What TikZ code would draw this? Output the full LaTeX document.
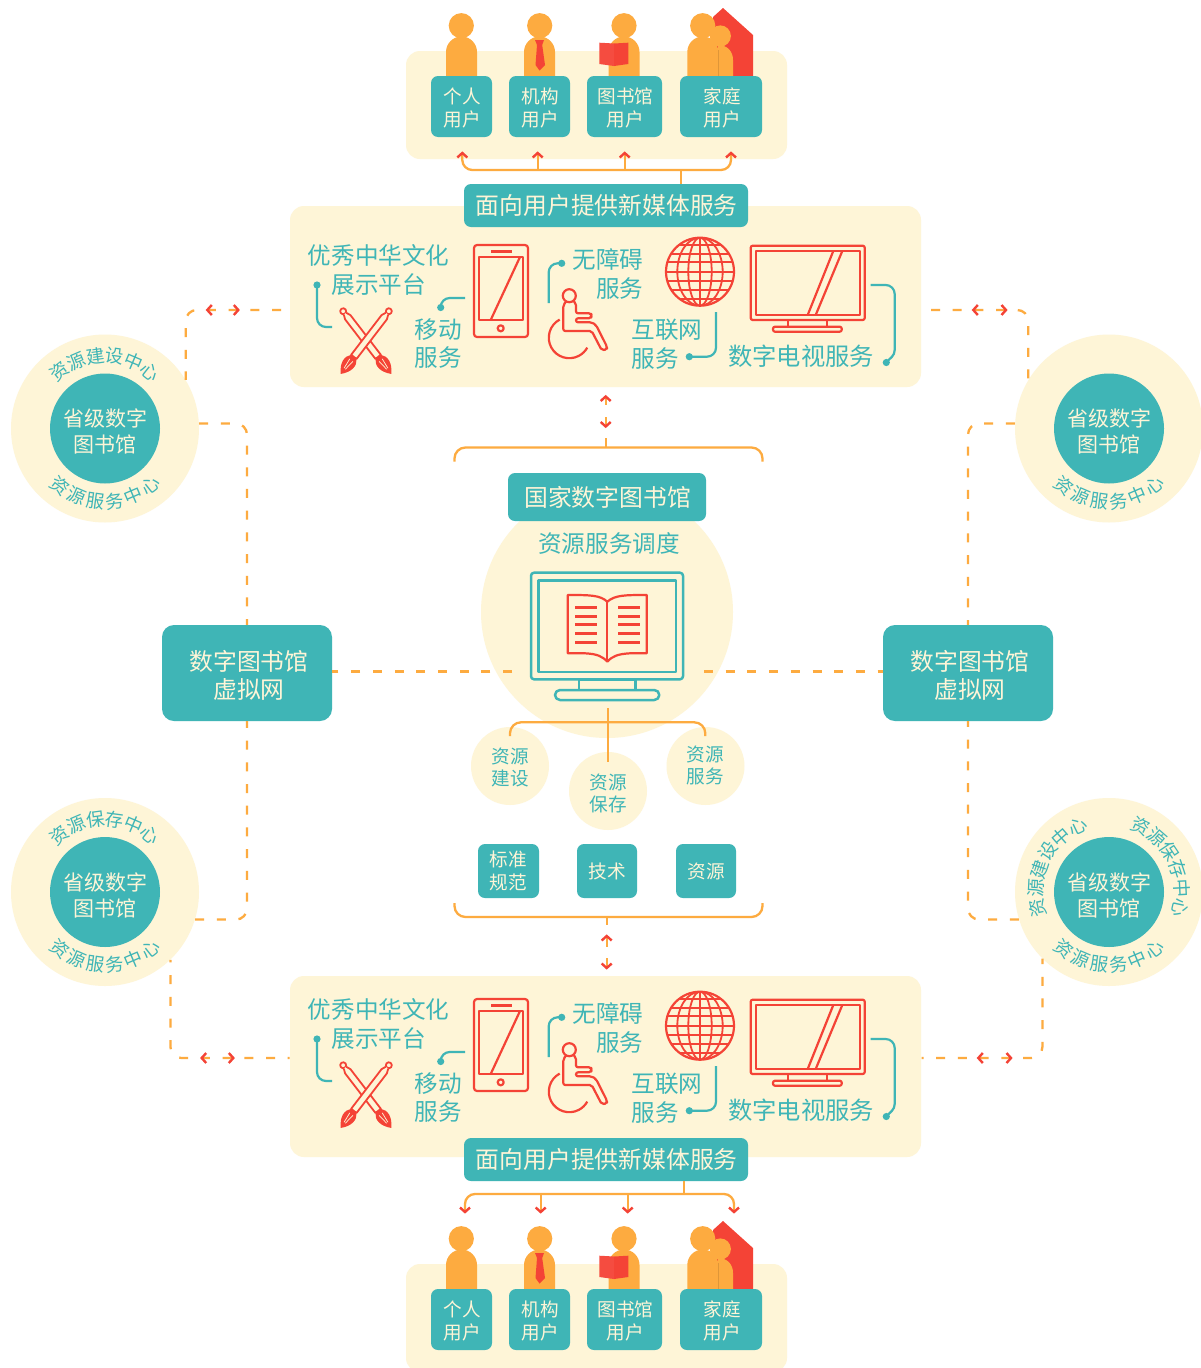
\documentclass[tikz,border=0pt]{standalone}
\usepackage{fontspec}
\setmainfont{Noto Sans CJK SC}
\definecolor{cteal}{HTML}{3FB5B6}
\definecolor{ccream}{HTML}{FEF5D7}
\definecolor{corange}{HTML}{FDAB40}
\definecolor{cred}{HTML}{F44336}
\newcommand\fbig{\fontsize{23.8}{28.5}\selectfont}
\newcommand\flab{\fontsize{23.6}{28.5}\selectfont}
\newcommand\fmid{\fontsize{21}{26}\selectfont}
\newcommand\fsma{\fontsize{18.6}{23}\selectfont}
\newcommand\fcir{\fontsize{18.6}{22}\selectfont}
% one line of text, with uniform box and an optional vertical nudge
\newcommand\tl[2][0pt]{\raisebox{#1}[.88em][.12em]{#2}}
\newcommand\ul[1]{\hspace*{2pt}\tl[-1pt]{#1}}
\tikzset{
  tbox/.style 2 args={fill=cteal,text=ccream,rounded corners=7pt,inner sep=0pt,align=center,minimum width=#1 pt,minimum height=#2 pt},
  cpanel/.style 2 args={fill=ccream,rounded corners=14pt,inner sep=0pt,minimum width=#1 pt,minimum height=#2 pt},
  disc/.style 2 args={circle,fill=#2,inner sep=0pt,minimum size=#1 pt},
  lab/.style={text=cteal,inner sep=0pt,font=\flab},
  leader/.style={draw=cteal,line width=2.2pt,rounded corners=9pt},
  leadend/.style={draw=cteal,line width=2.2pt},
  leaddot/.style={fill=cteal},
  icon/.style={draw=cred,line width=2.2pt,line join=round},
  tealicon/.style={draw=cteal,line width=2.5pt,line join=round},
  oline/.style={draw=corange,line width=2.3pt},
  dashline/.style={draw=corange,line width=2.3pt,dash pattern=on 9pt off 12.7pt,rounded corners=11pt},
  chevron/.style={draw=cred,line width=2.4pt,miter limit=10},
  person/.style={fill=corange}
}
\newcommand\chev[3]{\draw[chevron,shift={(#1,#2)},rotate=#3] (-5,4.5)--(0,0)--(5,4.5);}
\newcommand\pbody[1]{\fill[person] (#1-15.5,76) -- (#1-15.5,52) arc[start angle=180,end angle=360,radius=15.5] -- (#1+15.5,76) -- cycle;}
\newcommand\phead[1]{\fill[person] (#1,25.7) circle[radius=12.6];}
\newcommand\users[2]{%
  \begin{scope}[shift={(0,#2)}]
  \phead{461.3}\pbody{461.5}
  \phead{539.7}\pbody{539.5}
  \fill[cred] (535,40)--(544,40)--(542.2,45)--(545,65)--(539.5,70.5)--(535.5,65)--(537,45)--cycle;
  \phead{624}\pbody{624}
  \fill[cred!95!white] (599.3,42.7)--(614,43.5)--(614,66)--(599.3,64)--cycle;
  \fill[cred] (628.3,42.7)--(614,43.5)--(614,66)--(628.3,64)--cycle;
  \fill[cred] (713,17)--(723,8)--(753,35)--(753,76)--(718,76)--cycle;
  \phead{702.7}\pbody{702.8}
  \fill[person] (720.3,36) circle[radius=10.6];
  \fill[person] (718,76)--(718,45) .. controls (727,45) and (733,51) .. (733,60) -- (733,76) -- cycle;
  \draw[corange!88!black,line width=.5pt] (718,50)--(718,76);
  \node[tbox={61}{61},font=\fsma] (#1a) at (461.5,106.5) {\ul{个人}\\\ul{用户}};
  \node[tbox={61}{61},font=\fsma] (#1b) at (539.5,106.5) {\ul{机构}\\\ul{用户}};
  \node[tbox={75}{61},font=\fsma] (#1c) at (624.5,106.5) {\ul{图书馆}\\\ul{用户}};
  \node[tbox={82}{61},font=\fsma] (#1d) at (721,106.5) {\ul{家庭}\\\ul{用户}};
  \end{scope}}
\newcommand\brush[2]{%
  \begin{scope}[shift={(366,#1)},rotate=#2]
  \draw[icon,line width=1.8pt,fill=ccream] (0,-37.5) circle[radius=3];
  \draw[icon,line width=1.8pt,fill=ccream] (-1.5,-34.5)--(-3.4,-30)--(-3.4,20)--(3.4,20)--(3.4,-30)--(1.5,-34.5);
  \fill[cred] (-3.4,20) .. controls (-8,25) and (-8,33) .. (0,41.5) .. controls (8,33) and (8,25) .. (3.4,20) -- cycle;
  \draw[ccream,line width=.7pt] (-2,24)--(-.8,35) (2,24)--(.8,35);
  \end{scope}}
\newcommand\services[2]{%
  \begin{scope}[shift={(0,#2)}]
  \node[lab,align=center] (#1txa) at (378.7,270) {\tl{优秀中华文化}\\\tl{展示平台}};
  \coordinate (#1la) at (317,285);
  \coordinate (#1lb) at (332,327);
  \fill[leaddot] (#1la) circle[radius=3.6];
  \draw[leader] (#1la) |- (#1lb);
  \brush{341}{37.5}
  \brush{341}{-37.5}
  \node[lab,align=center] (#1txb) at (438,343.5) {\tl{移动}\\\tl{服务}};
  \coordinate (#1lc) at (440.7,307.5);
  \coordinate (#1ld) at (465,298);
  \fill[leaddot] (#1lc) circle[radius=3.6];
  \draw[leader] (#1lc) |- (#1ld);
  % phone
  \draw[icon,rounded corners=3pt] (474,245) rectangle (528,337);
  \draw[icon] (478.7,256.7) rectangle (522.7,320);
  \draw[icon] (520,257)--(490.7,320);
  \draw[icon,line width=2.8pt] (491,251.2)--(512,251.2);
  \draw[icon] (500.7,328.3) circle[radius=3];
  % wheelchair
  \node[lab,align=right] (#1txc) at (608,274) {\tl{无障碍}\\\tl{服务}};
  \coordinate (#1le) at (561.7,263.3);
  \coordinate (#1lf) at (548.7,303);
  \fill[leaddot] (#1le) circle[radius=3.6];
  \draw[leader] (#1le) -| (#1lf);
  \draw[icon] (569.3,295.7) circle[radius=6.5];
  \draw[icon,rounded corners=2pt] (566,301.7)--(563.3,305)--(563.3,331)--(591.7,331)--(601.7,350.2)--(607,349.5)--(607,346.7)--(596,325)--(591.7,322.3)--(576,322.3)--(576,318.3)--(591,318.3)--(591.7,315.7)--(591,313.3)--(576,313.3)--(576,303.3)--(573.3,301);
  \draw[icon] (569.3,337.7) ++(242:20.5) arc[start angle=242,end angle=29,radius=20.5];
  % globe
  \begin{scope}
  \clip (700,271.7) circle[radius=34];
  \draw[icon,line width=1.8pt] (700,237)--(700,306.4);
  \draw[icon,line width=1.8pt] (700,271.7) ellipse[x radius=11.7,y radius=34];
  \draw[icon,line width=1.8pt] (700,271.7) ellipse[x radius=22.7,y radius=34];
  \foreach \dy in {-27,-18,-9.5,0,9.5,18,27} {\draw[icon,line width=1.8pt] (660,271.7+\dy)--(740,271.7+\dy);}
  \end{scope}
  \draw[icon] (700,271.7) circle[radius=34];
  \node[lab,align=left] (#1txd) at (667,344) {\tl{互联网}\\\tl{服务}};
  \coordinate (#1lg) at (689.3,356.7);
  \coordinate (#1lh) at (716,312);
  \fill[leaddot] (#1lg) circle[radius=3.6];
  \draw[leader] (#1lg) -| (#1lh);
  % tv
  \draw[icon,rounded corners=2pt] (750.7,245.7) rectangle (864.7,320);
  \draw[icon] (755.7,250.7) rectangle (860,315);
  \draw[icon] (833.3,251)--(807.7,315) (842.3,251)--(815.7,315);
  \draw[icon] (787.7,320) rectangle (827.3,326.7);
  \draw[icon,rounded corners=2pt] (773,326.7) rectangle (841.7,331.7);
  \node[lab,font=\fontsize{24.3}{28}\selectfont] (#1txe) at (801,356) {\tl{数字电视服务}};
  \coordinate (#1li) at (870.7,285);
  \coordinate (#1lj) at (894.7,350);
  \coordinate (#1lk) at (886.3,362.5);
  \fill[leaddot] (#1lk) circle[radius=3.6];
  \draw[leader] (#1li) -| (#1lj);
  \draw[leadend] (#1lj) .. controls (894.7,356) and (890,358) .. (#1lk);
  \end{scope}}
% arguments: cy, cx, chars, first angle, +1 arc read over the top / -1 arc read under, name
\newcommand\arctext[6]{%
  \foreach \ch [count=\ci from 0] in {#3} {%
    \pgfmathsetmacro\ang{#4+\ci*15.4}
    \pgfmathsetmacro\rot{-1*#5*\ang}
    \node[text=cteal,inner sep=0pt,font=\fontsize{18.4}{18}\selectfont,rotate=\rot,name=#6\ci] at ({#2+73*sin(\ang)},{#1-#5*73*cos(\ang)}) {\ch};
  }}
\newcommand\province[3]{%
  \node[disc={188}{ccream}] (#1o) at (#2,#3) {};
  \node[disc={110}{cteal},text=ccream,font=\fmid,align=center] (#1i) at (#2,#3) {\tl[-3.5pt]{省级数字}\\\tl[-3.5pt]{图书馆}};
}
\begin{document}
\begin{tikzpicture}[x=1pt,y=-1pt]
\useasboundingbox (0,0) rectangle (1201,1368);
\fill[white] (0,0) rectangle (1201,1368);
% panels
\node[cpanel={381}{108}] (upT) at (596.5,105) {};
\node[cpanel={381}{108}] (upB) at (596.5,1318) {};
\node[cpanel={631}{181}] (panT) at (605.5,296.5) {};
\node[cpanel={631}{181}] (panB) at (605.5,1066.5) {};
\users{uT}{0}
\users{uB}{1213}
\services{sT}{0}
\services{sB}{754}
\node[tbox={284}{43},font=\fbig] (titT) at (606,205.5) {\hspace*{1.5pt}\tl{面向用户提供新媒体服务}};
\node[tbox={284}{43},font=\fbig] (titB) at (606,1159.5) {\hspace*{1.5pt}\tl{面向用户提供新媒体服务}};
% top tree
\coordinate (ta1) at (462.3,155);\coordinate (ta2) at (537.7,155);\coordinate (ta3) at (624.7,155);\coordinate (ta4) at (731,155);
\coordinate (tj) at (680.7,170);
\draw[oline,rounded corners=10pt] (ta1) |- (tj) -| (ta4);
\draw[oline] (ta2) -- (ta2 |- tj) (ta3) -- (ta3 |- tj) (tj) -- (tj |- titT.north);
\chev{462.3}{153}{0}\chev{537.7}{153}{0}\chev{624.7}{153}{0}\chev{731}{153}{0}
% bottom tree
\coordinate (ba1) at (465,1210);\coordinate (ba2) at (540.7,1210);\coordinate (ba3) at (627.7,1210);\coordinate (ba4) at (734,1210);
\coordinate (bj) at (684,1194);
\draw[oline,rounded corners=10pt] (ba1) |- (bj) -| (ba4);
\draw[oline] (ba2) -- (ba2 |- bj) (ba3) -- (ba3 |- bj) (bj) -- (bj |- titB.south);
\chev{465}{1212}{180}\chev{540.7}{1212}{180}\chev{627.7}{1212}{180}\chev{734}{1212}{180}
% centre
\node[disc={252}{ccream}] (core) at (607,612) {};
\node[tbox={198}{48},font=\fbig] (natl) at (607,497) {\hspace*{1pt}\tl{国家数字图书馆}};
\node[lab] (sched) at (609,544) {\tl{资源服务调度}};
\draw[tealicon,rounded corners=3pt] (531,572.7) rectangle (683,679.3);
\draw[tealicon] (538.3,580.7) rectangle (676,672);
\draw[tealicon] (579,679.3) rectangle (635.3,690);
\draw[tealicon,rounded corners=5pt] (555,690) rectangle (659.3,700);
\draw[icon] (607.3,601.7) .. controls (600,595) and (590,595) .. (567.7,595) -- (567.7,653.3) -- (585,653.3) .. controls (597,654) and (602,656) .. (607.3,661.7) .. controls (612.5,656) and (618,654) .. (630,653.3) -- (646.7,653.3) -- (646.7,595) .. controls (625,595) and (615,595) .. (607.3,601.7) -- cycle;
\draw[icon] (607.3,601.7)--(607.3,661.7);
\foreach \ly in {607.3,616,624.3,633.3,642.3} {\draw[icon,line width=3pt] (575,\ly)--(596.7,\ly) (618.3,\ly)--(640,\ly);}
% branch
\coordinate (br0) at (607.7,708);\coordinate (br1) at (510,736);\coordinate (br2) at (607.7,762);\coordinate (br3) at (705.3,736);\coordinate (brj) at (607.7,722.3);
\node[disc={78}{ccream},text=cteal,font=\fcir,align=center] (rb) at (510,766) {\tl[-1pt]{资源}\\\tl[-1pt]{建设}};
\node[disc={78}{ccream},text=cteal,font=\fcir,align=center] (rs) at (608,791) {\tl[-2pt]{资源}\\\tl[-2pt]{保存}};
\node[disc={78}{ccream},text=cteal,font=\fcir,align=center] (rv) at (705.5,766) {\tl[1pt]{资源}\\\tl[1pt]{服务}};
\draw[oline,rounded corners=11pt] (br1) |- (brj) -| (br3);
\draw[oline] (br0) -- (br2);
% tech boxes
\node[tbox={61}{54},font=\fsma] (bstd) at (508.5,871) {\tl{标准}\\\tl{规范}};
\node[tbox={60}{54},font=\fsma] (btec) at (607,871) {\tl{技术}};
\node[tbox={60}{54},font=\fsma] (bres) at (706,871) {\tl{资源}};
% brackets
\coordinate (ktl) at (454.5,461.5);\coordinate (ktr) at (762.5,461.5);\coordinate (ktj) at (605.7,447.5);\coordinate (kts) at (605.7,438);
\draw[oline,rounded corners=11pt] (ktl) |- (ktj) -| (ktr);
\draw[oline] (ktj) -- (kts);
\coordinate (kbl) at (454.5,903);\coordinate (kbr) at (762.5,903);\coordinate (kbj) at (607,917);\coordinate (kbs) at (607,925);
\draw[oline,rounded corners=11pt] (kbl) |- (kbj) -| (kbr);
\draw[oline] (kbj) -- (kbs);
% vertical double arrows
\coordinate (va1) at (605.7,398);\coordinate (va2) at (605.7,405);\coordinate (va3) at (605.7,417);\coordinate (va4) at (605.7,425);
\draw[oline] (va1)--(va2) (va3)--(va4);
\chev{605.7}{396.5}{0}\chev{605.7}{426.5}{180}
\coordinate (vb1) at (606.7,937);\coordinate (vb2) at (606.7,946.5);\coordinate (vb3) at (606.7,958);\coordinate (vb4) at (606.7,966);
\draw[oline] (vb1)--(vb2) (vb3)--(vb4);
\chev{606.7}{936}{0}\chev{606.7}{968}{180}
% virtual network boxes
\node[tbox={170}{96},font=\fbig,rounded corners=12pt] (vl) at (247,673) {\hspace*{4pt}\tl[-2.5pt]{数字图书馆}\\\hspace*{4pt}\tl[-2.5pt]{虚拟网}};
\node[tbox={170}{96},font=\fbig,rounded corners=12pt] (vr) at (968,673) {\hspace*{4pt}\tl[-2.5pt]{数字图书馆}\\\hspace*{4pt}\tl[-2.5pt]{虚拟网}};
% provincial circles
\province{ca}{105}{428.5}
\province{cb}{1109}{428.5}
\province{cc}{105}{892}
\province{cd}{1109}{892}
\arctext{428.5}{105}{资,源,建,设,中,心}{-38.5}{1}{ata}
\arctext{428.5}{105}{资,源,服,务,中,心}{-38.5}{-1}{atb}
\arctext{428.5}{1109}{资,源,服,务,中,心}{-38.5}{-1}{btb}
\arctext{892}{105}{资,源,保,存,中,心}{-38.5}{1}{cta}
\arctext{892}{105}{资,源,服,务,中,心}{-38.5}{-1}{ctb}
\arctext{892}{1109}{资,源,建,设,中,心}{-102.5}{1}{dta}
\arctext{892}{1109}{资,源,保,存,中,心}{25.5}{1}{dtc}
\arctext{892}{1109}{资,源,服,务,中,心}{-38.5}{-1}{dtb}
% dashed connectors
\coordinate (hl) at (512,671.5);\coordinate (hr) at (704,671.5);
\coordinate (pa) at (281,310);\coordinate (pb) at (931,310);\coordinate (pc) at (289.5,1058);\coordinate (pd) at (921.5,1058);
\draw[dashline] (hl) -- (vl.east |- hl);
\draw[dashline] (hr) -- (vr.west |- hr);
\draw[dashline] (pa) -| (cao.31);
\draw[dashline] (pb) -| (cbo.149.4);
\draw[dashline,dash phase=7.2pt] (pc) -| (cco.-46);
\draw[dashline,dash phase=7pt] (pd) -| (cdo.225);
\draw[dashline] (cao.3) -| (vl.north);
\draw[dashline] (cbo.177) -| (vr.north);
\draw[dashline] (cco.-17.5) -| (vl.south);
\draw[dashline] (cdo.197) -| (vr.south);
\chev{207.3}{310}{90}\chev{238.3}{310}{-90}
\chev{973.3}{310}{90}\chev{1006}{310}{-90}
\chev{201.7}{1058}{90}\chev{233.3}{1058}{-90}
\chev{978.3}{1058}{90}\chev{1011}{1058}{-90}
\end{tikzpicture}
\end{document}
